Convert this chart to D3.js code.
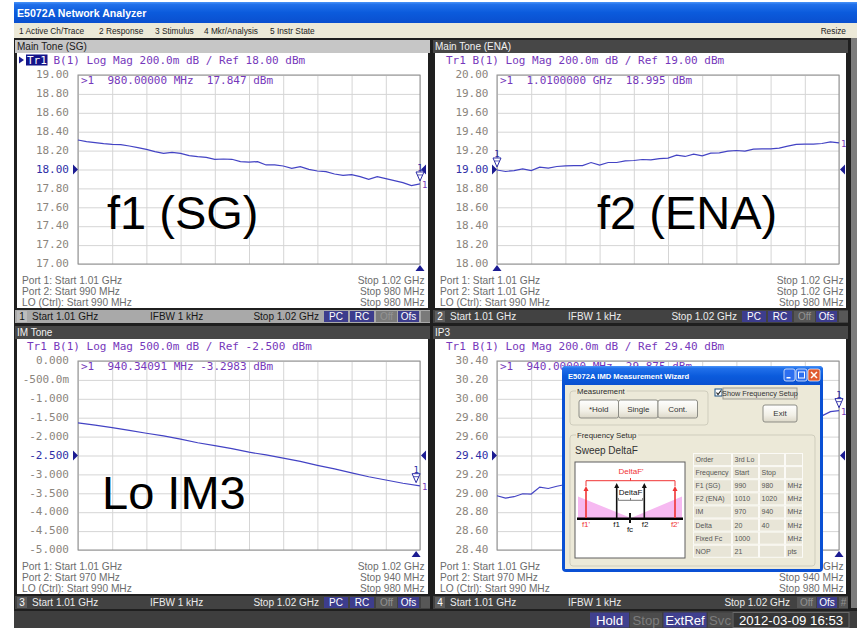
<!DOCTYPE html>
<html><head><meta charset="utf-8">
<script src="https://cdn.jsdelivr.net/npm/d3@7"></script>
<style>
html,body{margin:0;padding:0;background:#fff;}
svg{display:block;}
text{white-space:pre;}
</style></head><body><svg id="c" width="857" height="628"></svg>
<script>
// ---------------- DATA ----------------
const appTitle = "E5072A Network Analyzer";
const menuItems = ["1 Active Ch/Trace","2 Response","3 Stimulus","4 Mkr/Analysis","5 Instr State"];
const panelTitles = ["Main Tone (SG)","Main Tone (ENA)","IM Tone","IP3"];
const traceHeaders = [
  "Tr1 B(1) Log Mag 200.0m dB / Ref 18.00 dBm",
  "Tr1 B(1) Log Mag 200.0m dB / Ref 19.00 dBm",
  "Tr1 B(1) Log Mag 500.0m dB / Ref -2.500 dBm",
  "Tr1 B(1) Log Mag 200.0m dB / Ref 29.40 dBm"];
const markerTexts = [
  ">1  980.00000 MHz  17.847 dBm",
  ">1  1.0100000 GHz  18.995 dBm",
  ">1  940.34091 MHz -3.2983 dBm",
  ">1  940.00000 MHz  29.875 dBm"];
const markerValues = [17.847, 18.995, -3.2983, 29.875];
const markerSweepPos = [1.020, 1.010, 1.0198864, 1.020]; // port-1 stimulus (GHz)
const yLabelsF1 = ["19.00","18.80","18.60","18.40","18.20","18.00","17.80","17.60","17.40","17.20","17.00"];
const yLabelsF2 = ["20.00","19.80","19.60","19.40","19.20","19.00","18.80","18.60","18.40","18.20","18.00"];
const yLabelsIM = ["0.000","-500.0m","-1.000","-1.500","-2.000","-2.500","-3.000","-3.500","-4.000","-4.500","-5.000"];
const yLabelsIP3 = ["30.40","30.20","30.00","29.80","29.60","29.40","29.20","29.00","28.80","28.60","28.40"];
const xDivisions = [1.010,1.011,1.012,1.013,1.014,1.015,1.016,1.017,1.018,1.019,1.020];
const sweepStart = 1.010, sweepStop = 1.020;
const f1SG = [18.312,18.295,18.284,18.273,18.266,18.263,18.249,18.231,18.213,18.189,18.171,18.182,18.171,18.146,18.136,18.129,18.108,18.111,18.108,18.083,18.079,18.083,18.048,18.048,18.037,18.012,18.030,18.002,17.984,17.977,17.952,17.938,17.945,17.924,17.896,17.924,17.903,17.882,17.861,17.829,17.847];
const f2ENA = [18.995,18.979,18.989,19.007,18.989,19.025,19.014,19.032,19.039,19.042,19.042,19.074,19.046,19.074,19.074,19.092,19.095,19.106,19.102,19.116,19.120,19.152,19.138,19.162,19.145,19.173,19.176,19.194,19.201,19.194,19.215,19.219,19.219,19.226,19.247,19.265,19.268,19.268,19.275,19.293,19.282];
const loIM3 = [-1.635,-1.696,-1.765,-1.834,-1.912,-1.981,-2.067,-2.163,-2.240,-2.318,-2.413,-2.483,-2.569,-2.656,-2.760,-2.855,-2.958,-3.062,-3.149,-3.235,-3.305];
const ip3 = [28.974,28.950,28.964,28.995,28.992,29.065,29.051,29.075,29.093,29.10,29.12,29.13,29.15,29.17,29.18,29.21,29.22,29.24,29.26,29.28,29.30,29.31,29.34,29.36,29.38,29.40,29.43,29.45,29.47,29.50,29.52,29.55,29.58,29.61,29.64,29.68,29.72,29.77,29.819,29.864,29.874];
const bigLabels = ["f1 (SG)","f2 (ENA)","Lo IM3",""];
const portLinesP1 = [["Port 1: Start 1.01 GHz","Stop 1.02 GHz"],["Port 2: Start 990 MHz","Stop 980 MHz"],["LO (Ctrl): Start 990 MHz","Stop 980 MHz"]];
const portLinesP2 = [["Port 1: Start 1.01 GHz","Stop 1.02 GHz"],["Port 2: Start 1.01 GHz","Stop 1.02 GHz"],["LO (Ctrl): Start 990 MHz","Stop 980 MHz"]];
const portLinesP3 = [["Port 1: Start 1.01 GHz","Stop 1.02 GHz"],["Port 2: Start 970 MHz","Stop 940 MHz"],["LO (Ctrl): Start 990 MHz","Stop 980 MHz"]];
const portLinesP4 = [["Port 1: Start 1.01 GHz","Stop 1.02 GHz"],["Port 2: Start 970 MHz","Stop 940 MHz"],["LO (Ctrl): Start 990 MHz","Stop 980 MHz"]];
const chanStart = "Start 1.01 GHz", chanIFBW = "IFBW 1 kHz", chanStop = "Stop 1.02 GHz";
const statusItems = ["Hold","Stop","ExtRef","Svc","2012-03-09 16:53"];
const wizardTitle = "E5072A IMD Measurement Wizard";
const wizardButtons = ["*Hold","Single","Cont."];
const wizardTable = [
  ["Order","3rd Lo","",""],
  ["Frequency","Start","Stop",""],
  ["F1 (SG)","990","980","MHz"],
  ["F2 (ENA)","1010","1020","MHz"],
  ["IM","970","940","MHz"],
  ["Delta","20","40","MHz"],
  ["Fixed Fc","1000","","MHz"],
  ["NOP","21","","pts"]];

// ---------------- DRAWING ----------------
const SANS = "'Liberation Sans', Arial, sans-serif";
const MONO = "'DejaVu Sans Mono', monospace";
const PURPLE = "#7638bb", NAVY = "#1c1c92", TRACE = "#4343c4";
const svg = d3.select("#c");
const defs = svg.append("defs");
const tg = defs.append("linearGradient").attr("id","tb").attr("x1",0).attr("y1",0).attr("x2",0).attr("y2",1);
[[0,"#4a94f8"],[0.12,"#2170ea"],[0.5,"#0b5bdc"],[1,"#0a4fcf"]].forEach(s=>tg.append("stop").attr("offset",s[0]).attr("stop-color",s[1]));
const bg2 = defs.append("linearGradient").attr("id","btn").attr("x1",0).attr("y1",0).attr("x2",0).attr("y2",1);
[[0,"#ffffff"],[0.6,"#f1efe6"],[1,"#dcd8c8"]].forEach(s=>bg2.append("stop").attr("offset",s[0]).attr("stop-color",s[1]));

function txt(g, x, y, s, o) {
  o = o || {};
  return g.append("text").attr("x",x).attr("y",y).text(s)
    .attr("font-family",o.font||SANS).attr("font-size",o.size||10)
    .attr("fill",o.fill||"#000").attr("font-weight",o.weight||null)
    .attr("text-anchor",o.anchor||"start").attr("dominant-baseline",o.base||"central");
}

svg.append("rect").attr("width",857).attr("height",628).attr("fill","#fff");
svg.append("rect").attr("x",14).attr("y",2).attr("width",843).attr("height",626).attr("fill","#1f1f1f");
svg.append("rect").attr("x",851).attr("y",38).attr("width",6).attr("height",570).attr("fill","#7c7c7c");
// title bar
svg.append("rect").attr("x",14).attr("y",2).attr("width",843).attr("height",21).attr("fill","url(#tb)");
txt(svg,17,13,appTitle,{size:10.6,weight:"bold",fill:"#fff"});
// menu bar
svg.append("rect").attr("x",14).attr("y",23).attr("width",843).attr("height",15).attr("fill","#ECE9D8");
const menuX = [19,99,155,204,270];
menuItems.forEach((m,i)=>txt(svg,menuX[i],31,m,{size:8.3,fill:"#222"}));
txt(svg,846,31,"Resize",{size:8.3,fill:"#222",anchor:"end"});

const series = [f1SG, f2ENA, loIM3, ip3];
const yLabelSets = [yLabelsF1, yLabelsF2, yLabelsIM, yLabelsIP3];
const portSets = [portLinesP1, portLinesP2, portLinesP3, portLinesP4];
const bigPos = [[107,228.5],[597,228.5],[102,508.5],[0,0]];
function parseLbl(s){ return s.endsWith("m") ? parseFloat(s)/1000 : parseFloat(s); }

for (let p=0;p<4;p++){
  const col=p%2, row=Math.floor(p/2), dy=row*286;
  const fx=[14,432][col], fw=416;
  const plotL=[78,497][col], plotR=plotL+342, plotT=75+dy, plotB=264+dy;
  const active = p===0;
  const g = svg.append("g");
  // header
  g.append("rect").attr("x",fx+1).attr("y",40+dy).attr("width",fw-1).attr("height",13).attr("fill",active?"#c6c6c6":"#474747");
  txt(g,fx+3,46.5+dy,panelTitles[p],{size:10,fill:active?"#1a1a1a":"#f2f2f2"});
  // white area
  g.append("rect").attr("x",fx+3).attr("y",53+dy).attr("width",fw-5).attr("height",255).attr("fill","#fff");
  // trace header
  const tx = fx+13+col;
  if (active){
    g.append("path").attr("d",`M${fx+5},${56.5+dy}L${fx+10},${60+dy}L${fx+5},${63.5+dy}Z`).attr("fill",NAVY);
    g.append("rect").attr("x",tx-1).attr("y",54.5+dy).attr("width",21.5).attr("height",11).attr("fill","#14148a");
  }
  const th = txt(g,tx,60+dy,"",{font:MONO,size:11,fill:PURPLE});
  if (active){
    th.append("tspan").text(traceHeaders[p].slice(0,3)).attr("fill","#fff");
    th.append("tspan").text(traceHeaders[p].slice(3));
  } else th.text(traceHeaders[p]);

  // scales
  const labels = yLabelSets[p], nums = labels.map(parseLbl);
  const y = d3.scaleLinear().domain([nums[10],nums[0]]).range([plotB,plotT]);
  const x = d3.scaleLinear().domain([sweepStart,sweepStop]).range([plotL,plotR]);
  // grid
  const gv = g.append("g").attr("transform",`translate(0,${plotB})`)
    .call(d3.axisBottom(x).tickValues(xDivisions).tickSize(-(plotB-plotT)).tickFormat(""));
  const gh = g.append("g").attr("transform",`translate(${plotL},0)`)
    .call(d3.axisLeft(y).tickValues(nums).tickSize(-(plotR-plotL)).tickFormat(""));
  [gv,gh].forEach(a=>{a.select(".domain").remove(); a.selectAll("line").attr("stroke","#d5d5d5").attr("stroke-width",1);});
  g.append("rect").attr("x",plotL).attr("y",plotT).attr("width",plotR-plotL).attr("height",plotB-plotT)
    .attr("fill","none").attr("stroke","#8e8e8e").attr("stroke-width",1);
  // y labels
  const ya = g.append("g").attr("transform",`translate(${plotL},0)`)
    .call(d3.axisLeft(y).tickValues(nums).tickFormat((d,i)=>labels[i]).tickSize(0).tickPadding(plotL-(col?488.5:69)));
  ya.attr("font-family",MONO).attr("font-size",11);
  ya.select(".domain").remove();
  ya.selectAll("text").attr("fill",(d,i)=>i===5?"#2f2fa6":"#8b857d").attr("dy","0.25em");
  // marker readout
  txt(g,plotL+3,80.5+dy,markerTexts[p],{font:MONO,size:11,fill:PURPLE});
  // big label
  if (bigLabels[p]) txt(g,bigPos[p][0],bigPos[p][1],bigLabels[p],{size:47,fill:"#000",base:"alphabetic"});
  // trace
  const data = series[p], n=data.length;
  const line = d3.line().x((d,i)=>x(sweepStart+(sweepStop-sweepStart)*i/(n-1))).y(d=>y(d));
  g.append("path").datum(data).attr("d",line).attr("fill","none").attr("stroke",TRACE).attr("stroke-width",1.2);
  // ref triangles
  const yr = y(nums[5]);
  g.append("path").attr("d",`M${plotL-5},${yr-5}L${plotL},${yr}L${plotL-5},${yr+5}Z`).attr("fill",NAVY);
  g.append("path").attr("d",`M${plotR+6},${yr-5}L${plotR+1},${yr}L${plotR+6},${yr+5}Z`).attr("fill",NAVY);
  // marker
  const mx = x(markerSweepPos[p]), my = y(markerValues[p]);
  g.append("path").attr("d",`M${mx-4},${my-12}L${mx+4},${my-12}L${mx},${my-3}Z`).attr("fill","#fff").attr("stroke","#2b2ba6").attr("stroke-width",1);
  g.append("line").attr("x1",mx-2.5).attr("x2",mx+2.5).attr("y1",my-9).attr("y2",my-9).attr("stroke","#2b2ba6").attr("stroke-width",0.8);
  txt(g,mx,my-16,"1",{font:MONO,size:9,fill:"#2b2ba6",anchor:"middle"});
  g.append("path").attr("d",`M${mx-4.5},${plotB+7}L${mx+4.5},${plotB+7}L${mx},${plotB+1}Z`).attr("fill",NAVY);
  // trace end label
  txt(g,plotR+2,y(data[n-1])+1,"1",{font:MONO,size:9,fill:PURPLE});
  // port lines
  portSets[p].forEach((pl,i)=>{
    txt(g,fx+8,280+dy+i*11,pl[0],{size:10.2,fill:"#6c6c6c"});
    txt(g,plotR+4.5,280+dy+i*11,pl[1],{size:10.2,fill:"#6c6c6c",anchor:"end"});
  });
  // channel bar
  const by=310+dy;
  g.append("rect").attr("x",fx+1).attr("y",by).attr("width",fw-1).attr("height",13).attr("fill",active?"#a9a9a9":"#424242");
  g.append("rect").attr("x",fx+3).attr("y",by+1).attr("width",10).attr("height",11).attr("fill",active?"#bdbdbd":"#5e5e5e");
  const tc = active?"#161616":"#ececec";
  txt(g,fx+8,by+6.5,String(p+1),{size:10,fill:active?"#111":"#fff",anchor:"middle"});
  txt(g,fx+18,by+6.5,chanStart,{size:10,fill:tc});
  txt(g,fx+136,by+6.5,chanIFBW,{size:10,fill:tc});
  const boxes = p<3 ? [["PC",310,24,1],["RC",336,24,1],["Off",362,21,0],["Ofs",384,21,1],["",407,9,0]]
                    : [["Off",365,19,0],["Ofs",385,20,1],["#",407,9,0]];
  txt(g,fx+(p<3?305:358),by+6.5,chanStop,{size:10,fill:tc,anchor:"end"});
  boxes.forEach(b=>{
    g.append("rect").attr("x",fx+b[1]).attr("y",by+1).attr("width",b[2]).attr("height",11).attr("fill",b[3]?"#3d3d8d":(active?"#7a7a7a":"#575757"));
    txt(g,fx+b[1]+b[2]/2,by+6.5,b[0],{size:10,fill:b[3]?"#fff":"#939393",anchor:"middle"});
  });
}

// ---------------- bottom status bar ----------------
svg.append("rect").attr("x",14).attr("y",611).attr("width",843).attr("height",17).attr("fill","#3e3e3e");
const stBoxes = [[590,39,1],[630,32,0],[663.5,43,1],[708,24,0],[733,116,2]];
statusItems.forEach((s,i)=>{
  const b=stBoxes[i];
  svg.append("rect").attr("x",b[0]).attr("y",612.5).attr("width",b[1]).attr("height",15)
    .attr("fill",b[2]===1?"#40408f":(b[2]===2?"#363636":"#4c4c4c")).attr("stroke",b[2]===2?"#6a6a6a":null);
  txt(svg,b[0]+b[1]/2,620.5,s,{size:13.2,fill:b[2]===0?"#7c7c7c":"#fff",anchor:"middle"});
});

// ---------------- IMD wizard dialog ----------------
const dg = svg.append("g");
dg.append("rect").attr("x",562).attr("y",366).attr("width",261).attr("height",206).attr("rx",4).attr("fill","#0a50d4");
dg.append("rect").attr("x",562).attr("y",366).attr("width",261).attr("height",20).attr("rx",4).attr("fill","url(#tb)");
dg.append("rect").attr("x",565).attr("y",385).attr("width",255).attr("height",184).attr("fill","#ECE9D8");
txt(dg,568,376,wizardTitle,{size:7.6,weight:"bold",fill:"#fff"});
// title buttons
[[784,0],[796,1]].forEach(b=>{
  dg.append("rect").attr("x",b[0]).attr("y",369).attr("width",11).attr("height",12).attr("rx",2).attr("fill","#2d6ff0").attr("stroke","#fff").attr("stroke-width",0.7);
});
dg.append("rect").attr("x",786.5).attr("y",377).attr("width",4).attr("height",1.5).attr("fill","#fff");
dg.append("rect").attr("x",798.5).attr("y",372).attr("width",6).attr("height",6).attr("fill","none").attr("stroke","#fff").attr("stroke-width",1);
dg.append("rect").attr("x",808).attr("y",369).attr("width",12).attr("height",12).attr("rx",2).attr("fill","#e05a30").attr("stroke","#fff").attr("stroke-width",0.7);
dg.append("path").attr("d","M811,372L817,378M817,372L811,378").attr("stroke","#fff").attr("stroke-width",1.5);
function groupBox(x,y,w,h,label){
  dg.append("rect").attr("x",x).attr("y",y).attr("width",w).attr("height",h).attr("rx",3).attr("fill","none").attr("stroke","#cfcdbd");
  const t = txt(dg,x+7,y,label,{size:7.8,fill:"#2a2a2a"});
  const bb = t.node().getBBox();
  dg.insert("rect",()=>t.node()).attr("x",bb.x-1).attr("y",bb.y).attr("width",bb.width+2).attr("height",bb.height).attr("fill","#ECE9D8");
}
function button(x,y,w,h,label,size){
  dg.append("rect").attr("x",x).attr("y",y).attr("width",w).attr("height",h).attr("rx",2).attr("fill","url(#btn)").attr("stroke","#8d8d86");
  txt(dg,x+w/2,y+h/2,label,{size:size||8,fill:"#333",anchor:"middle"});
}
groupBox(570,391,138,34,"Measurement");
wizardButtons.forEach((b,i)=>button(579+i*39.5,400,39.5,18,b));
dg.append("rect").attr("x",715).attr("y",389).attr("width",7).attr("height",7).attr("fill","#fff").attr("stroke","#1c5180");
dg.append("path").attr("d","M716.5,392.5L718,394.5L721,390.5").attr("fill","none").attr("stroke","#222").attr("stroke-width",1.2);
dg.append("rect").attr("x",723).attr("y",388).attr("width",74).attr("height",11).attr("fill","#e4e1d4").attr("stroke","#9b9a90");
txt(dg,760,393.5,"Show Frequency Setup",{size:7.3,fill:"#333",anchor:"middle"});
button(763,405,34,17,"Exit");
groupBox(570,435,245,131,"Frequency Setup");
txt(dg,575,450.5,"Sweep DeltaF",{size:10,fill:"#333"});
// diagram
dg.append("rect").attr("x",575).attr("y",462).attr("width",110).attr("height",96).attr("fill","#fff").attr("stroke","#5e5e5e");
dg.append("path").attr("d","M578,496.5L631,518L682,496.5L682,518L578,518Z").attr("fill","#f6b9f1");
dg.append("line").attr("x1",577).attr("x2",683).attr("y1",518.8).attr("y2",518.8).attr("stroke","#000").attr("stroke-width",2.5);
function arrow(x,top,color){
  dg.append("line").attr("x1",x).attr("x2",x).attr("y1",518).attr("y2",top+4).attr("stroke",color).attr("stroke-width",1.6);
  dg.append("path").attr("d",`M${x-2.5},${top+5}L${x},${top}L${x+2.5},${top+5}Z`).attr("fill",color);
}
arrow(586,486,"#f03434"); arrow(675,486,"#f03434");
arrow(616.7,483,"#111"); arrow(644.3,483,"#111");
dg.append("path").attr("d","M586,486L586,480.7L675,480.7L675,486M630.5,480.7L630.5,478").attr("fill","none").attr("stroke","#f03434").attr("stroke-width",1);
txt(dg,631,471,"DeltaF'",{size:8,fill:"#f03434",anchor:"middle"});
dg.append("path").attr("d","M618.3,498L618.3,500.3L642.7,500.3L642.7,498M630.5,500.3L630.5,498").attr("fill","none").attr("stroke","#777").attr("stroke-width",1);
txt(dg,630.5,492.3,"DeltaF",{size:8,fill:"#111",anchor:"middle"});
dg.append("line").attr("x1",630).attr("x2",630).attr("y1",513).attr("y2",523).attr("stroke","#111").attr("stroke-width",2);
txt(dg,586,524.5,"f1'",{size:8,fill:"#f03434",anchor:"middle"});
txt(dg,616.7,524.5,"f1",{size:8,fill:"#111",anchor:"middle"});
txt(dg,630,529,"fc",{size:8,fill:"#111",anchor:"middle"});
txt(dg,645,524.5,"f2",{size:8,fill:"#111",anchor:"middle"});
txt(dg,675,524.5,"f2'",{size:8,fill:"#f03434",anchor:"middle"});
// table
const colX=[693,732,759,785,803], rowH=13.1;
wizardTable.forEach((r,ri)=>{
  r.forEach((c,ci)=>{
    dg.append("rect").attr("x",colX[ci]+0.5).attr("y",453+ri*rowH+0.5).attr("width",colX[ci+1]-colX[ci]-1).attr("height",rowH-1)
      .attr("fill","#e8e5d7").attr("stroke","#fbfaf6").attr("stroke-width",1);
    if (c) txt(dg,colX[ci]+2.5,453+ri*rowH+rowH/2,c,{size:7,fill:"#555"});
  });
});
</script></body></html>
